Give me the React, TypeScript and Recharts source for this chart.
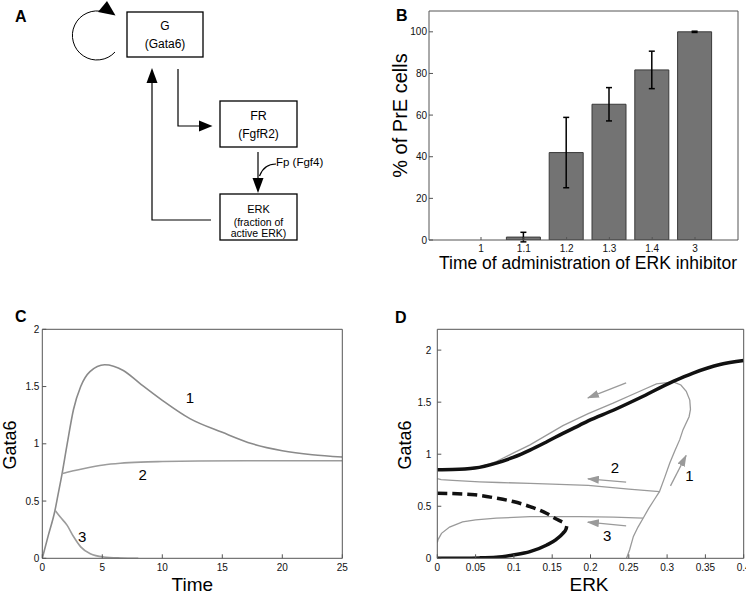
import React from 'react';
import {
  BarChart, Bar, XAxis, YAxis, ErrorBar, LineChart, Line, ReferenceLine, ReferenceDot,
} from 'recharts';

const FONT = '"Liberation Sans", Arial, Helvetica, sans-serif';
const AXIS = '#555';
const TXT = '#111';

// ---------- Panel B data ----------
const inhibitorTimes = ['1', '1.1', '1.2', '1.3', '1.4', '3'];
const preCellPercent = [0, 1.4, 42, 65.2, 81.7, 100];
const preCellError = [0.3, 2.3, 16.9, 8, 9, 0.3];
const pctTicks = [0, 20, 40, 60, 80, 100];

// ---------- Panel C data ----------
const timeTicks = [0, 5, 10, 15, 20, 25];
const gataTicksC = [0, 0.5, 1, 1.5, 2];
const c1Time = [0, 0.5, 1.06, 1.3, 1.65, 2.06, 2.6, 3.2, 3.97, 5.2, 6.75, 8.1, 10, 12.3, 15, 17.5, 20, 22.5, 25];
const c1Gata = [0, 0.2, 0.42, 0.55, 0.74, 0.99, 1.3, 1.5, 1.63, 1.69, 1.64, 1.53, 1.38, 1.22, 1.1, 1.0, 0.94, 0.905, 0.885];
const c2Time = [1.65, 2.0, 2.6, 3.5, 5.1, 6.5, 8.2, 10, 13, 17, 25];
const c2Gata = [0.74, 0.75, 0.765, 0.785, 0.815, 0.83, 0.84, 0.845, 0.85, 0.852, 0.852];
const c3Time = [1.06, 1.5, 2.06, 2.6, 3.2, 4.0, 5.1, 6.5, 8];
const c3Gata = [0.42, 0.36, 0.29, 0.19, 0.1, 0.04, 0.012, 0.003, 0];
const cLabelText = ['1', '2', '3'];
const cLabelTime = [12.3, 8.37, 3.33];
const cLabelGata = [1.4, 0.73, 0.19];

// ---------- Panel D data ----------
const erkTicks = [0, 0.05, 0.1, 0.15, 0.2, 0.25, 0.3, 0.35, 0.4];
const gataTicksD = [0, 0.5, 1, 1.5, 2];
const stableHighErk = [0, 0.02, 0.049, 0.077, 0.099, 0.121, 0.143, 0.164, 0.186, 0.197, 0.229, 0.264, 0.308, 0.334, 0.369, 0.4];
const stableHighGata = [0.85, 0.852, 0.867, 0.915, 0.97, 1.04, 1.12, 1.2, 1.28, 1.32, 1.42, 1.54, 1.7, 1.78, 1.862, 1.9];
const unstableErk = [0, 0.049, 0.077, 0.099, 0.121, 0.143, 0.156, 0.163];
const unstableGata = [0.626, 0.61, 0.578, 0.545, 0.497, 0.43, 0.375, 0.35];
const stableLowErk = [0, 0.055, 0.077, 0.099, 0.121, 0.143, 0.155, 0.164, 0.168, 0.169];
const stableLowGata = [0, 0.004, 0.01, 0.032, 0.064, 0.128, 0.18, 0.24, 0.28, 0.31];
const t1Erk = [0.247, 0.251, 0.256, 0.262, 0.2687, 0.276, 0.283, 0.29, 0.297, 0.3035, 0.31, 0.3165, 0.3208, 0.3287, 0.3305, 0.3296, 0.325, 0.318, 0.308, 0.2861, 0.2644, 0.2295, 0.197, 0.164, 0.121, 0.099, 0.077, 0.055, 0.03, 0];
const t1Gata = [0, 0.08, 0.21, 0.3, 0.385, 0.48, 0.56, 0.64, 0.78, 0.915, 1.03, 1.14, 1.236, 1.36, 1.43, 1.52, 1.605, 1.665, 1.695, 1.676, 1.605, 1.49, 1.39, 1.275, 1.09, 1.01, 0.93, 0.877, 0.858, 0.85];
const t2Erk = [0.29, 0.25, 0.197, 0.15, 0.121, 0.08, 0.055, 0.02, 0.005, 0];
const t2Gata = [0.64, 0.665, 0.7, 0.712, 0.72, 0.728, 0.735, 0.748, 0.755, 0.765];
const t3Erk = [0.2687, 0.23, 0.186, 0.121, 0.077, 0.05, 0.033, 0.016, 0.0055, 0.001, 0];
const t3Gata = [0.385, 0.395, 0.4, 0.4, 0.385, 0.37, 0.35, 0.3, 0.24, 0.18, 0.15];
const arrowTailErk = [0.2465, 0.2465, 0.2465, 0.3044];
const arrowTailGata = [1.686, 0.732, 0.311, 0.696];
const arrowHeadErk = [0.1966, 0.1966, 0.1966, 0.3248];
const arrowHeadGata = [1.541, 0.764, 0.347, 0.988];
const dLabelText = ['2', '1', '3'];
const dLabelErk = [0.232, 0.329, 0.2217];
const dLabelGata = [0.867, 0.79, 0.218];

const zip = (xs: number[], ys: number[]) => xs.map((x, i) => ({ x, y: ys[i] }));

const barData = inhibitorTimes.map((c, i) => ({ cat: c, pct: preCellPercent[i], err: preCellError[i] }));

const tickStyle = { fontSize: 10, fill: TXT, fontFamily: FONT };

const yTitle = (text: string, cx: number, cy: number, size: number) => () => (
  <text x={cx} y={cy} transform={`rotate(-90 ${cx} ${cy})`} textAnchor="middle" dominantBaseline="central"
    fontSize={size} fill="#000" fontFamily={FONT}>{text}</text>
);
const xTitle = (text: string, cx: number, by: number, size: number) => () => (
  <text x={cx} y={by} textAnchor="middle" fontSize={size} fill="#000" fontFamily={FONT}>{text}</text>
);

function PanelB() {
  return (
    <BarChart width={386} height={280} data={barData} margin={{ top: 10, right: 7, left: 0, bottom: 0 }}>
      <XAxis dataKey="cat" padding={{ left: 30.6, right: 21.6 }} height={40} tickSize={-3} tickMargin={8}
        stroke={AXIS} tick={tickStyle} interval={0} label={{ content: xTitle('Time of administration of ERK inhibitor', 228, 269, 17.5) }} />
      <XAxis xAxisId="top" orientation="top" dataKey="cat" padding={{ left: 30.6, right: 21.6 }} height={1}
        tickSize={-3} tick={false} stroke={AXIS} interval={0} />
      <YAxis domain={[0, 110]} ticks={pctTicks} width={69} tickSize={-4} tickMargin={6} stroke={AXIS}
        tick={tickStyle} interval={0} allowDataOverflow label={{ content: yTitle('% of PrE cells', 40, 115.5, 20) }} />
      <YAxis yAxisId="right" orientation="right" domain={[0, 110]} ticks={pctTicks} width={1} tickSize={-4}
        tick={false} stroke={AXIS} interval={0} allowDataOverflow />
      <Bar dataKey="pct" barSize={34} fill="#737373" stroke="#3a3a3a" strokeWidth={1} isAnimationActive={false}>
        <ErrorBar dataKey="err" width={3} stroke="#000" strokeWidth={1.5} />
      </Bar>
    </BarChart>
  );
}

function PanelC() {
  return (
    <LineChart width={373} height={312} margin={{ top: 38.3, right: 29.7, left: 0, bottom: 10 }}>
      <XAxis type="number" dataKey="x" domain={[0, 25]} ticks={timeTicks} height={33.7} tickSize={-4} tickMargin={10}
        stroke={AXIS} tick={tickStyle} interval={0} allowDataOverflow label={{ content: xTitle('Time', 192.3, 301, 19) }} />
      <XAxis xAxisId="top" orientation="top" type="number" dataKey="x" domain={[0, 25]} ticks={timeTicks} height={1}
        tickSize={-4} tick={false} stroke={AXIS} interval={0} allowDataOverflow />
      <YAxis type="number" domain={[0, 2]} ticks={gataTicksC} width={42.3} tickSize={-4} tickMargin={7}
        stroke={AXIS} tick={tickStyle} interval={0} allowDataOverflow label={{ content: yTitle('Gata6', 9.5, 155, 18) }} />
      <YAxis yAxisId="right" orientation="right" type="number" domain={[0, 2]} ticks={gataTicksC} width={1}
        tickSize={-4} tick={false} stroke={AXIS} interval={0} allowDataOverflow />
      <Line data={zip(c1Time, c1Gata)} dataKey="y" type="monotone" stroke="#8a8a8a" strokeWidth={1.6} dot={false} isAnimationActive={false} />
      <Line data={zip(c2Time, c2Gata)} dataKey="y" type="monotone" stroke="#9c9c9c" strokeWidth={1.6} dot={false} isAnimationActive={false} />
      <Line data={zip(c3Time, c3Gata)} dataKey="y" type="monotone" stroke="#9c9c9c" strokeWidth={1.6} dot={false} isAnimationActive={false} />
      {cLabelText.map((t, i) => (
        <ReferenceDot key={t} x={cLabelTime[i]} y={cLabelGata[i]} r={0} fill="none" stroke="none"
          label={{ value: t, position: 'center', fontSize: 15, fill: '#000', fontFamily: FONT }} />
      ))}
    </LineChart>
  );
}

function PanelD() {
  return (
    <LineChart width={373} height={312} margin={{ top: 38.3, right: 1.3, left: 0, bottom: 10 }}>
      <XAxis type="number" dataKey="x" domain={[0, 0.4]} ticks={erkTicks} height={33.7} tickSize={-4} tickMargin={10}
        stroke={AXIS} tick={tickStyle} interval={0} allowDataOverflow label={{ content: xTitle('ERK', 216, 301, 19) }} />
      <XAxis xAxisId="top" orientation="top" type="number" dataKey="x" domain={[0, 0.4]} ticks={erkTicks} height={1}
        tickSize={-4} tick={false} stroke={AXIS} interval={0} allowDataOverflow />
      <YAxis type="number" domain={[0, 2.2]} ticks={gataTicksD} width={64.3} tickSize={-4} tickMargin={10}
        stroke={AXIS} tick={tickStyle} interval={0} allowDataOverflow label={{ content: yTitle('Gata6', 31.7, 155, 18) }} />
      <YAxis yAxisId="right" orientation="right" type="number" domain={[0, 2.2]} ticks={gataTicksD} width={1}
        tickSize={-4} tick={false} stroke={AXIS} interval={0} allowDataOverflow />
      <Line data={zip(t1Erk, t1Gata)} dataKey="y" type="linear" stroke="#9a9a9a" strokeWidth={1.3} dot={false} isAnimationActive={false} />
      <Line data={zip(t2Erk, t2Gata)} dataKey="y" type="linear" stroke="#9a9a9a" strokeWidth={1.3} dot={false} isAnimationActive={false} />
      <Line data={zip(t3Erk, t3Gata)} dataKey="y" type="linear" stroke="#9a9a9a" strokeWidth={1.3} dot={false} isAnimationActive={false} />
      <Line data={zip(stableHighErk, stableHighGata)} dataKey="y" type="monotone" stroke="#111" strokeWidth={3.5} dot={false} isAnimationActive={false} />
      <Line data={zip(unstableErk, unstableGata)} dataKey="y" type="monotone" stroke="#111" strokeWidth={3.5} strokeDasharray="10 5" dot={false} isAnimationActive={false} />
      <Line data={zip(stableLowErk, stableLowGata)} dataKey="y" type="monotone" stroke="#111" strokeWidth={3.5} dot={false} isAnimationActive={false} />
      {arrowTailErk.map((e, i) => (
        <ReferenceLine key={`a${i}`} segment={[{ x: e, y: arrowTailGata[i] }, { x: arrowHeadErk[i], y: arrowHeadGata[i] }]}
          stroke="#9a9a9a" strokeWidth={1.3} markerEnd="url(#grayArrow)" />
      ))}
      {dLabelText.map((t, i) => (
        <ReferenceDot key={`l${t}`} x={dLabelErk[i]} y={dLabelGata[i]} r={0} fill="none" stroke="none"
          label={{ value: t, position: 'center', fontSize: 15, fill: '#000', fontFamily: FONT }} />
      ))}
    </LineChart>
  );
}

function Overlay() {
  const s = { stroke: '#000', strokeWidth: 1.2, fill: 'none' };
  const t = { fontFamily: FONT, fill: '#000', textAnchor: 'middle' as const };
  return (
    <svg width={746} height={592} style={{ position: 'absolute', left: 0, top: 0, pointerEvents: 'none' }}>
      <defs>
        <marker id="grayArrow" markerWidth="12" markerHeight="8" refX="11" refY="4" orient="auto" markerUnits="userSpaceOnUse">
          <path d="M0,0 L12,4 L0,8 z" fill="#9a9a9a" />
        </marker>
      </defs>
      <g fontFamily={FONT} fontWeight="bold" fontSize={16} fill="#000">
        <text x={15} y={22}>A</text>
        <text x={396} y={20.5}>B</text>
        <text x={15} y={322}>C</text>
        <text x={395} y={323}>D</text>
      </g>
      <rect x={127} y={12} width={76} height={45} {...s} strokeWidth={1.3} />
      <rect x={220} y={101} width={77} height={46} {...s} strokeWidth={1.3} />
      <rect x={220} y={194} width={77} height={46} {...s} strokeWidth={1.3} />
      <path d="M 115 52 A 24.5 24.5 0 1 1 104 12" {...s} strokeWidth={1} />
      <polygon points="98,12 107,1 115.5,15.5" fill="#000" />
      <polyline points="178,69 178,126 206,126" {...s} />
      <polygon points="212.5,126 199,120.5 199,131.5" fill="#000" />
      <line x1={258} y1={152} x2={258} y2={182} {...s} />
      <polygon points="258,193 252.5,178 263.5,178" fill="#000" />
      <path d="M 276 164 Q 264 164 259.5 176" {...s} />
      <polyline points="211,220 152,220 152,80" {...s} />
      <polygon points="152,68 146.5,83 157.5,83" fill="#000" />
      <text x={165} y={30} fontSize={12} {...t}>G</text>
      <text x={165} y={48} fontSize={12} {...t}>(Gata6)</text>
      <text x={258.5} y={120} fontSize={12.5} {...t}>FR</text>
      <text x={258.5} y={138} fontSize={12} {...t}>(FgfR2)</text>
      <text x={258.5} y={213} fontSize={11} {...t}>ERK</text>
      <text x={258.5} y={225.5} fontSize={10.5} {...t}>(fraction of</text>
      <text x={258.5} y={237} fontSize={10.5} {...t}>active ERK)</text>
      <text x={276} y={166} fontSize={11.5} fontFamily={FONT} fill="#000">Fp (Fgf4)</text>
    </svg>
  );
}

export default function App() {
  return (
    <div style={{ position: 'absolute', left: 0, top: 0, width: 746, height: 592, background: '#fff', fontFamily: FONT, overflow: 'hidden' }}>
      <div style={{ position: 'absolute', left: 360, top: 0 }}><PanelB /></div>
      <div style={{ position: 'absolute', left: 0, top: 290 }}><PanelC /></div>
      <div style={{ position: 'absolute', left: 373, top: 290 }}><PanelD /></div>
      <Overlay />
    </div>
  );
}
